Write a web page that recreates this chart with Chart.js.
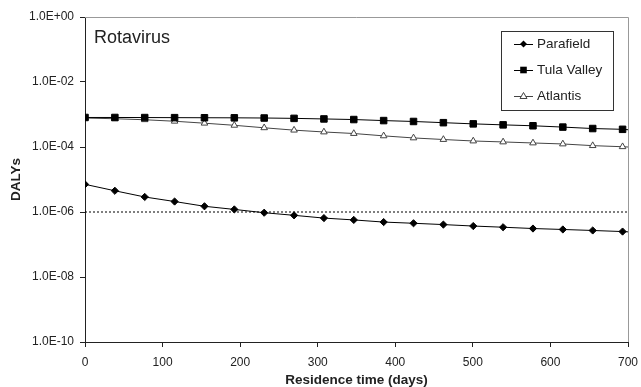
<!DOCTYPE html>
<html>
<head>
<meta charset="utf-8">
<script src="https://cdn.jsdelivr.net/npm/chart.js@4/dist/chart.umd.min.js"></script>
<style>
  html, body { margin: 0; padding: 0; background: #fff; }
  #wrap { width: 641px; height: 387px; }
</style>
</head>
<body>
<div id="wrap"><canvas id="myChart" width="641" height="387"></canvas></div>
<script>
// residence time (days); last entry is where the lines end (no marker)
const days = [0, 38.5, 77, 115.5, 154, 192.5, 231, 269.5, 308, 346.5, 385, 423.5, 462, 500.5, 539, 577.5, 616, 654.5, 693, 700];
const parafield = [7.1e-6, 4.5e-6, 2.9e-6, 2.1e-6, 1.5e-6, 1.2e-6, 9.5e-7, 7.9e-7, 6.5e-7, 5.7e-7, 4.9e-7, 4.5e-7, 4.1e-7, 3.7e-7, 3.4e-7, 3.1e-7, 2.9e-7, 2.7e-7, 2.5e-7, 2.45e-7];
const tulaValley = [8.1e-4, 8.1e-4, 8.05e-4, 8.0e-4, 7.95e-4, 7.9e-4, 7.8e-4, 7.6e-4, 7.3e-4, 7.0e-4, 6.5e-4, 6.1e-4, 5.6e-4, 5.15e-4, 4.8e-4, 4.5e-4, 4.1e-4, 3.7e-4, 3.5e-4, 3.4e-4];
const atlantis = [7.8e-4, 7.4e-4, 6.9e-4, 6.2e-4, 5.4e-4, 4.65e-4, 3.9e-4, 3.3e-4, 2.9e-4, 2.6e-4, 2.2e-4, 1.9e-4, 1.7e-4, 1.53e-4, 1.43e-4, 1.33e-4, 1.24e-4, 1.1e-4, 1.02e-4, 1.0e-4];
const threshold = 1e-6;
const yTickValues = [1e-10, 1e-8, 1e-6, 1e-4, 1e-2, 1];
const xTicks = [0, 100, 200, 300, 400, 500, 600, 700];

const FONT = "'Liberation Sans', Arial, sans-serif";

function toPoints(vals) {
  return vals.map((v, i) => ({ x: days[i], y: v }));
}
function radii(r) {
  return days.map((d, i) => (i === days.length - 1 ? 0 : r));
}
function sci(v) {
  const e = Math.round(Math.log10(v));
  const m = v / Math.pow(10, e);
  const sign = e < 0 ? "-" : "+";
  return m.toFixed(1) + "E" + sign + String(Math.abs(e)).padStart(2, "0");
}

const series = [
  { label: "Parafield", data: toPoints(parafield), borderColor: "#000", backgroundColor: "#000", pointStyle: "rectRot", pointRadius: radii(3.6), borderWidth: 1 },
  { label: "Tula Valley", data: toPoints(tulaValley), borderColor: "#000", backgroundColor: "#000", pointStyle: "rect", pointRadius: radii(4.6), borderWidth: 1 },
  { label: "Atlantis", data: toPoints(atlantis), borderColor: "#444", backgroundColor: "#fff", pointStyle: "triangle", pointRadius: radii(3.8), borderWidth: 1 },
];

const datasets = series.map(s => ({
  label: s.label,
  data: s.data,
  showLine: true,
  borderColor: s.borderColor,
  borderWidth: s.borderWidth,
  pointStyle: s.pointStyle,
  pointRadius: s.pointRadius,
  pointBackgroundColor: s.backgroundColor,
  pointBorderColor: s.borderColor,
  pointBorderWidth: 1,
  tension: 0,
}));
datasets.push({
  label: "threshold",
  data: [{ x: 0, y: threshold }, { x: 700, y: threshold }],
  showLine: true,
  borderColor: "#000",
  borderWidth: 1,
  borderDash: [2, 2],
  pointRadius: 0,
});

const frameAndLabels = {
  id: "frameAndLabels",
  afterDraw(chart) {
    const { ctx, chartArea: a } = chart;
    ctx.save();
    // top and right frame lines
    ctx.strokeStyle = "#999";
    ctx.lineWidth = 1;
    ctx.beginPath();
    ctx.moveTo(a.left, a.top + 0.5);
    ctx.lineTo(a.right + 0.5, a.top + 0.5);
    ctx.lineTo(a.right + 0.5, a.bottom);
    ctx.stroke();

    // panel label
    ctx.fillStyle = "#222";
    ctx.font = "18px " + FONT;
    ctx.textBaseline = "alphabetic";
    ctx.textAlign = "left";
    ctx.fillText("Rotavirus", 94, 43);

    // legend
    const bx = 501, by = 31, bw = 112, bh = 79;
    ctx.fillStyle = "#fff";
    ctx.fillRect(bx, by, bw, bh);
    ctx.strokeStyle = "#333";
    ctx.strokeRect(bx + 0.5, by + 0.5, bw, bh);
    ctx.font = "13.5px " + FONT;
    ctx.textBaseline = "middle";
    series.forEach((s, i) => {
      const y = 44 + i * 26;
      ctx.strokeStyle = s.borderColor;
      ctx.beginPath();
      ctx.moveTo(514, y + 0.5);
      ctx.lineTo(533, y + 0.5);
      ctx.stroke();
      const cx = 523.5;
      ctx.fillStyle = s.backgroundColor;
      ctx.beginPath();
      if (s.pointStyle === "rectRot") {
        ctx.moveTo(cx, y - 3.5); ctx.lineTo(cx + 3.5, y); ctx.lineTo(cx, y + 3.5); ctx.lineTo(cx - 3.5, y);
        ctx.closePath(); ctx.fill();
      } else if (s.pointStyle === "rect") {
        ctx.rect(cx - 3.3, y - 3.3, 6.6, 6.6); ctx.fill();
      } else {
        ctx.moveTo(cx, y - 3.5); ctx.lineTo(cx + 3.5, y + 2.5); ctx.lineTo(cx - 3.5, y + 2.5);
        ctx.closePath(); ctx.fill(); ctx.stroke();
      }
      ctx.fillStyle = "#222";
      ctx.fillText(s.label, 537, y + 0.5);
    });
    ctx.restore();
  },
};

const config = {
  type: "scatter",
  data: { datasets: datasets },
  options: {
    responsive: false,
    animation: false,
    layout: { padding: { top: 17, right: 13, left: 0, bottom: 0 } },
    plugins: { legend: { display: false }, tooltip: { enabled: false } },
    scales: {
      x: {
        type: "linear",
        min: 0,
        max: 700,
        afterBuildTicks: scale => { scale.ticks = xTicks.map(v => ({ value: v })); },
        afterFit: scale => {
          scale.height = 45;
          scale.paddingLeft = 10;
          scale.paddingRight = 10;
        },
        grid: { display: true, drawOnChartArea: false, drawTicks: true, tickLength: 5, color: "#222" },
        border: { color: "#222", width: 1 },
        ticks: { color: "#222", font: { family: FONT, size: 12 }, padding: 8, maxRotation: 0 },
        title: { display: true, text: "Residence time (days)", color: "#222", font: { family: FONT, size: 13.5, weight: "bold", lineHeight: 1 }, padding: { top: -1.5, bottom: 0 } },
      },
      y: {
        type: "logarithmic",
        min: 1e-10,
        max: 1,
        afterBuildTicks: scale => { scale.ticks = yTickValues.map(v => ({ value: v })); },
        afterFit: scale => { scale.width = 85; },
        grid: { display: true, drawOnChartArea: false, drawTicks: true, tickLength: 5, color: "#222" },
        border: { color: "#222", width: 1 },
        ticks: { color: "#222", font: { family: FONT, size: 12 }, padding: 6, autoSkip: false, callback: v => sci(v) },
        title: { display: true, text: "DALYs", color: "#222", font: { family: FONT, size: 13.5, weight: "bold", lineHeight: 1 }, padding: { top: 9.75, bottom: 0 } },
      },
    },
  },
  plugins: [frameAndLabels],
};

var myChart = new Chart(document.getElementById("myChart"), config);
</script>
</body>
</html>
